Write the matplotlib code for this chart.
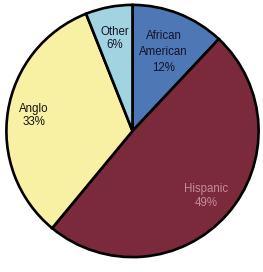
import matplotlib
matplotlib.use("Agg")
import matplotlib.pyplot as plt
import numpy as np

categories = ["African\nAmerican", "Hispanic", "Anglo", "Other"]
values = [12, 49, 33, 6]
colors = ["#4e77b6", "#7a2a3a", "#f8f0a2", "#a2d3e0"]
text_colors = ["#141428", "#c58a98", "#141414", "#141428"]
label_r = [0.67, 0.78, 0.79, 0.75]
label_ls = [1.45, 1.2, 1.1, 1.1]

W, H = 263, 272
fig = plt.figure(figsize=(W / 100, H / 100), dpi=100)
fig.patch.set_facecolor("white")
cx, cy, R = 132.5, 131, 128
ax = fig.add_axes([(cx - R) / W, (H - cy - R) / H, 2 * R / W, 2 * R / H])
wedges, _ = ax.pie(values, colors=colors, startangle=90, counterclock=False,
                   wedgeprops=dict(edgecolor="black", linewidth=1.9),
                   radius=1.0)
ax.set_xlim(-1.015, 1.015)
ax.set_ylim(-1.015, 1.015)
ax.set_aspect("equal")
ax.axis("off")

for w, cat, v, tc, r, ls in zip(wedges, categories, values, text_colors, label_r, label_ls):
    ang = np.deg2rad((w.theta1 + w.theta2) / 2)
    ax.text(r * np.cos(ang), r * np.sin(ang), f"{cat}\n{v}%", ha="center", va="center",
            fontsize=8.3, color=tc, family="Liberation Sans", linespacing=ls)

fig.savefig("out.png", dpi=100)
